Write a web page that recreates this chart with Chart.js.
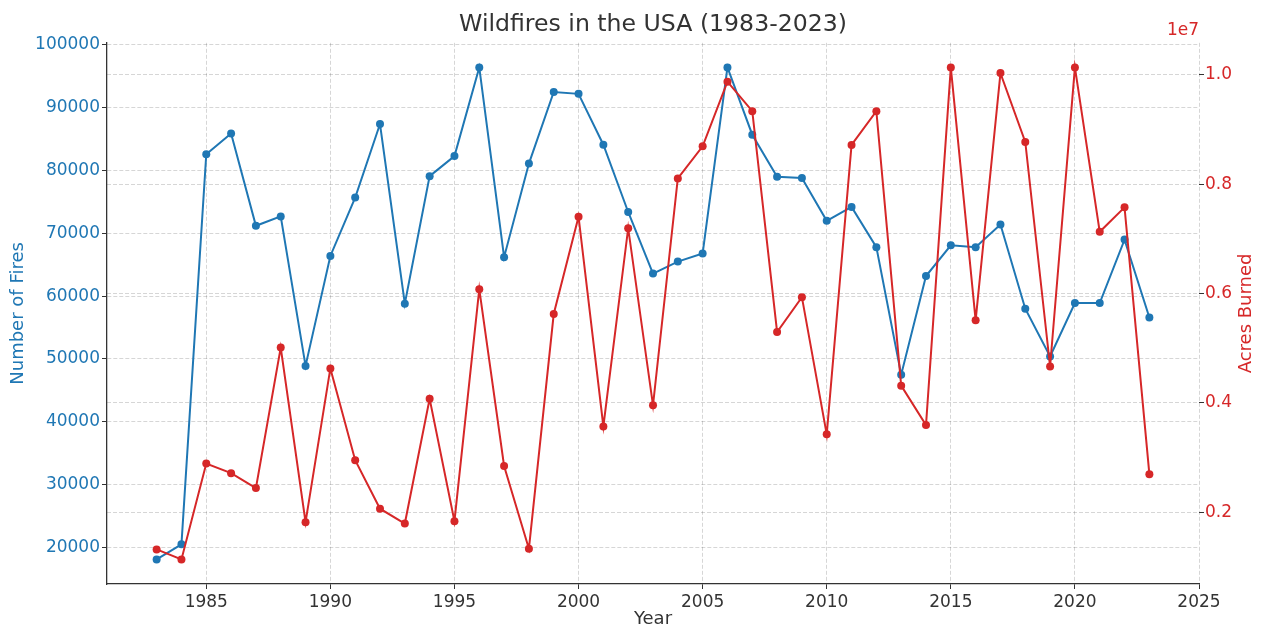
<!DOCTYPE html>
<html>
<head>
<meta charset="utf-8">
<script src="https://cdn.jsdelivr.net/npm/chart.js@4"></script>
<style>
  html, body { margin: 0; padding: 0; background: #fff; }
  #wrap { width: 1264px; height: 627px; }
</style>
</head>
<body>
<div id="wrap"><canvas id="FireChart"></canvas></div>
<script>
// data
const years = [1983, 1984, 1985, 1986, 1987, 1988, 1989, 1990, 1991, 1992,
               1993, 1994, 1995, 1996, 1997, 1998, 1999, 2000, 2001, 2002,
               2003, 2004, 2005, 2006, 2007, 2008, 2009, 2010, 2011, 2012,
               2013, 2014, 2015, 2016, 2017, 2018, 2019, 2020, 2021, 2022, 2023];
const fires = [18100, 20500, 82600, 85900, 71200, 72700, 48900, 66400, 75700, 87400,
               58800, 79100, 82300, 96400, 66200, 81100, 92500, 92200, 84100, 73400,
               63600, 65500, 66800, 96400, 85700, 79000, 78800, 72000, 74200, 67800,
               47500, 63200, 68100, 67800, 71400, 58000, 50400, 58900, 58900, 69000, 56600];
const acres = [1320000, 1138000, 2891000, 2715000, 2442000, 5010000, 1818000, 4630000, 2951000, 2065000,
               1793000, 4073000, 1836000, 6078000, 2847000, 1333000, 5624000, 7405000, 3570000, 7193000,
               3956000, 8102000, 8690000, 9873000, 9333000, 5296000, 5933000, 3424000, 8715000, 9333000,
               4315000, 3593000, 10133000, 5509000, 10029000, 8770000, 4665000, 10133000, 7127000, 7575000, 2696000];
const yearTicks = [1985, 1990, 1995, 2000, 2005, 2010, 2015, 2020, 2025];
const fireTicks = [20000, 30000, 40000, 50000, 60000, 70000, 80000, 90000, 100000];
const acreTicks = [2000000, 4000000, 6000000, 8000000, 10000000];

const blue = "#1f77b4";
const red = "#d62728";
const gridDash = [4, 2];
const gridColor = "rgba(0,0,0,0.16)";

Chart.defaults.font.family = "'DejaVu Sans', sans-serif";

// right axis title (reads bottom-up) and the 1e7 offset text
const extraText = {
    id: "extraText",
    afterDraw(chart) {
        const ctx = chart.ctx;
        const area = chart.chartArea;
        ctx.save();
        ctx.fillStyle = red;
        ctx.font = "18px 'DejaVu Sans'";
        ctx.textAlign = "center";
        ctx.textBaseline = "middle";
        ctx.translate(1246, (area.top + area.bottom) / 2);
        ctx.rotate(-Math.PI / 2);
        ctx.fillText("Acres Burned", 0, 0);
        ctx.restore();

        ctx.save();
        ctx.fillStyle = red;
        ctx.font = "17px 'DejaVu Sans'";
        ctx.textAlign = "right";
        ctx.textBaseline = "middle";
        ctx.fillText("1e7", area.right, 31);
        ctx.restore();
    }
};

let fireCanvas = document.getElementById("FireChart").getContext("2d");
let fireChart = new Chart(fireCanvas, {
    type: "line",
    data: {
        datasets: [{
            label: "Number of Fires",
            data: years.map((y, i) => ({ x: y, y: fires[i] })),
            yAxisID: "yFires",
            borderColor: blue,
            backgroundColor: blue,
            borderWidth: 2,
            pointRadius: 4,
            pointBorderWidth: 0,
            pointBackgroundColor: blue,
            tension: 0,
            order: 2
        }, {
            label: "Acres Burned",
            data: years.map((y, i) => ({ x: y, y: acres[i] })),
            yAxisID: "yAcres",
            borderColor: red,
            backgroundColor: red,
            borderWidth: 2,
            pointRadius: 4,
            pointBorderWidth: 0,
            pointBackgroundColor: red,
            tension: 0,
            order: 1
        }]
    },
    options: {
        responsive: true,
        maintainAspectRatio: false,
        animation: false,
        layout: { padding: 0 },
        plugins: {
            legend: { display: false },
            tooltip: { enabled: false },
            title: {
                display: true,
                fullSize: false,
                text: "Wildfires in the USA (1983-2023)",
                color: "#333",
                font: { size: 23.6, weight: "normal" },
                padding: { top: 11, bottom: 3.5 }
            }
        },
        scales: {
            x: {
                type: "linear",
                min: 1981,
                max: 2025,
                afterBuildTicks: (scale) => { scale.ticks = yearTicks.map(v => ({ value: v })); },
                afterFit: (scale) => { scale.height = 43; },
                ticks: {
                    color: "#333",
                    font: { size: 17 },
                    padding: 3,
                    maxRotation: 0,
                    callback: (v) => String(v)
                },
                grid: {
                    color: gridColor,
                    lineWidth: 1,
                    tickLength: 5,
                    tickColor: "#333"
                },
                border: { display: true, color: "#333", width: 1.3, dash: gridDash },
                title: {
                    display: true,
                    text: "Year",
                    color: "#333",
                    font: { size: 18, lineHeight: 0.8 },
                    padding: { top: 0, bottom: 0 }
                }
            },
            yFires: {
                type: "linear",
                position: "left",
                min: 14185,
                max: 100325,
                afterBuildTicks: (scale) => { scale.ticks = fireTicks.map(v => ({ value: v })); },
                afterFit: (scale) => { scale.width = 107; },
                ticks: {
                    color: blue,
                    font: { size: 17 },
                    padding: 2,
                    callback: (v) => String(v)
                },
                grid: {
                    color: gridColor,
                    lineWidth: 1,
                    tickLength: 5,
                    tickColor: "#333"
                },
                border: { display: true, color: "#333", width: 1.3, dash: gridDash },
                title: {
                    display: true,
                    text: "Number of Fires",
                    color: blue,
                    font: { size: 18, lineHeight: 1.2 },
                    padding: { top: 8, bottom: 0 }
                }
            },
            yAcres: {
                type: "linear",
                position: "right",
                min: 688000,
                max: 10583000,
                afterBuildTicks: (scale) => { scale.ticks = acreTicks.map(v => ({ value: v })); },
                afterFit: (scale) => { scale.width = 65; },
                ticks: {
                    color: red,
                    font: { size: 17 },
                    padding: 1,
                    callback: (v) => (v / 1e7).toFixed(1)
                },
                grid: {
                    color: gridColor,
                    lineWidth: 1,
                    tickLength: 5,
                    tickColor: "#333"
                },
                border: { display: false, dash: gridDash }
            }
        }
    },
    plugins: [extraText]
});
</script>
</body>
</html>
